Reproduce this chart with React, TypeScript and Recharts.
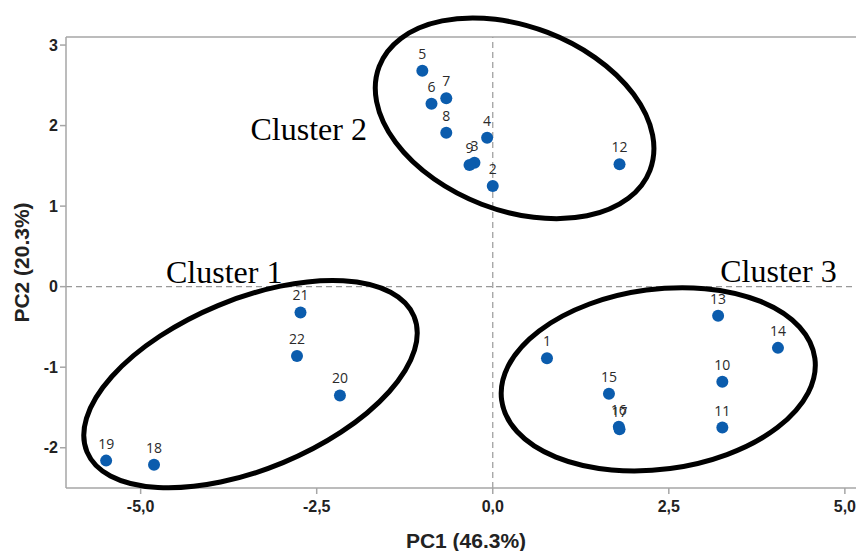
import { ScatterChart, Scatter, XAxis, YAxis, ReferenceLine, ReferenceDot, Label } from 'recharts'

// PCA scores per sample
const sampleIds = ['1', '2', '3', '4', '5', '6', '7', '8', '9', '10', '11', '12', '13', '14', '15', '16', '17', '18', '19', '20', '21', '22']
const pc1 = [0.77, 0.0, -0.26, -0.08, -1.0, -0.87, -0.66, -0.66, -0.33, 3.26, 3.26, 1.8, 3.2, 4.05, 1.65, 1.79, 1.8, -4.81, -5.49, -2.17, -2.73, -2.78]
const pc2 = [-0.89, 1.25, 1.54, 1.85, 2.68, 2.27, 2.34, 1.91, 1.51, -1.18, -1.75, 1.52, -0.36, -0.76, -1.33, -1.74, -1.77, -2.21, -2.16, -1.35, -0.32, -0.86]

const xTicks = [-5, -2.5, 0, 2.5, 5]
const yTicks = [-2, -1, 0, 1, 2, 3]

// cluster outlines: centre in PC units, radii (px) and tilt (deg)
const clusterNames = ['Cluster 1', 'Cluster 2', 'Cluster 3']
const clusterCx = [-3.44, 0.31, 2.35]
const clusterCy = [-1.21, 2.09, -1.15]
const clusterRx = [177, 145, 158]
const clusterRy = [85, 92, 90]
const clusterTilt = [-22.5, 21, -7.6]
const clusterLabelX = [-4.64, -3.44, 3.23]
const clusterLabelY = [0.05, 1.82, 0.06]

const data = sampleIds.map((id, i) => ({ id, x: pc1[i], y: pc2[i] }))

const AXIS = '#a6a6a6'
const DOT = '#0b5cad'
const SANS = "'Liberation Sans', Arial, sans-serif"

const fmt = (v: number) => v.toFixed(1).replace('.', ',')

const Point = (props: any) => {
  const { cx, cy, payload } = props
  return (
    <g>
      <circle cx={cx} cy={cy} r={6} fill={DOT} />
      <text x={cx} y={cy - 12} textAnchor="middle" fontSize={14} fill="#2a2a2a" fontFamily="'Open Sans', sans-serif">
        {payload.id}
      </text>
    </g>
  )
}

const XTick = ({ x, y, payload }: any) => (
  <text x={x} y={y} dy="0.71em" textAnchor="middle" fontSize={16} fontWeight="bold" fill="#222" fontFamily={SANS}>
    {fmt(payload.value)}
  </text>
)

const YTick = ({ x, y, payload }: any) => (
  <text x={x} y={y} dy="0.36em" textAnchor="end" fontSize={16} fontWeight="bold" fill="#222" fontFamily={SANS}>
    {payload.value}
  </text>
)

export default function App() {
  return (
    <div style={{ position: 'absolute', left: 0, top: 0, width: 856, height: 551, overflow: 'hidden', background: '#fff' }}>
      <ScatterChart width={880} height={551} margin={{ top: 37, right: 14, bottom: 0, left: 0 }}>
        <XAxis
          type="number"
          dataKey="x"
          domain={[-6.06, 5.3]}
          ticks={xTicks}
          allowDataOverflow
          height={63}
          stroke={AXIS}
          strokeWidth={1.5}
          tickSize={6}
          tickMargin={7}
          tick={<XTick />}
        >
          <Label value="PC1 (46.3%)" position="insideBottom" offset={3} style={{ fill: '#222', fontSize: 21, fontWeight: 'bold', fontFamily: SANS }} />
        </XAxis>
        <YAxis
          type="number"
          dataKey="y"
          domain={[-2.5, 3.1]}
          ticks={yTicks}
          allowDataOverflow
          width={66}
          stroke={AXIS}
          strokeWidth={1.5}
          tickSize={6}
          tick={<YTick />}
        >
          <Label value="PC2 (20.3%)" angle={-90} position="insideLeft" offset={22} style={{ textAnchor: 'middle', fill: '#222', fontSize: 21, fontWeight: 'bold', fontFamily: SANS }} />
        </YAxis>
        <ReferenceLine y={3.1} stroke={AXIS} strokeWidth={1.5} />
        <ReferenceLine x={0} stroke="#999" strokeDasharray="6 4" strokeWidth={1.2} />
        <ReferenceLine y={0} stroke="#999" strokeDasharray="6 4" strokeWidth={1.2} />
        <Scatter data={data} shape={<Point />} isAnimationActive={false} />
        {clusterNames.map((name, i) => (
          <ReferenceDot
            key={`ring-${name}`}
            x={clusterCx[i]}
            y={clusterCy[i]}
            ifOverflow="visible"
            shape={(p: any) => (
              <ellipse
                cx={p.cx}
                cy={p.cy}
                rx={clusterRx[i]}
                ry={clusterRy[i]}
                fill="none"
                stroke="#000"
                strokeWidth={5}
                transform={`rotate(${clusterTilt[i]} ${p.cx} ${p.cy})`}
              />
            )}
          />
        ))}
        {clusterNames.map((name, i) => (
          <ReferenceDot
            key={`name-${name}`}
            x={clusterLabelX[i]}
            y={clusterLabelY[i]}
            ifOverflow="visible"
            shape={(p: any) => (
              <text x={p.cx} y={p.cy} fontSize={32} fill="#000" fontFamily="'Liberation Serif', 'Times New Roman', serif">
                {name}
              </text>
            )}
          />
        ))}
      </ScatterChart>
    </div>
  )
}
